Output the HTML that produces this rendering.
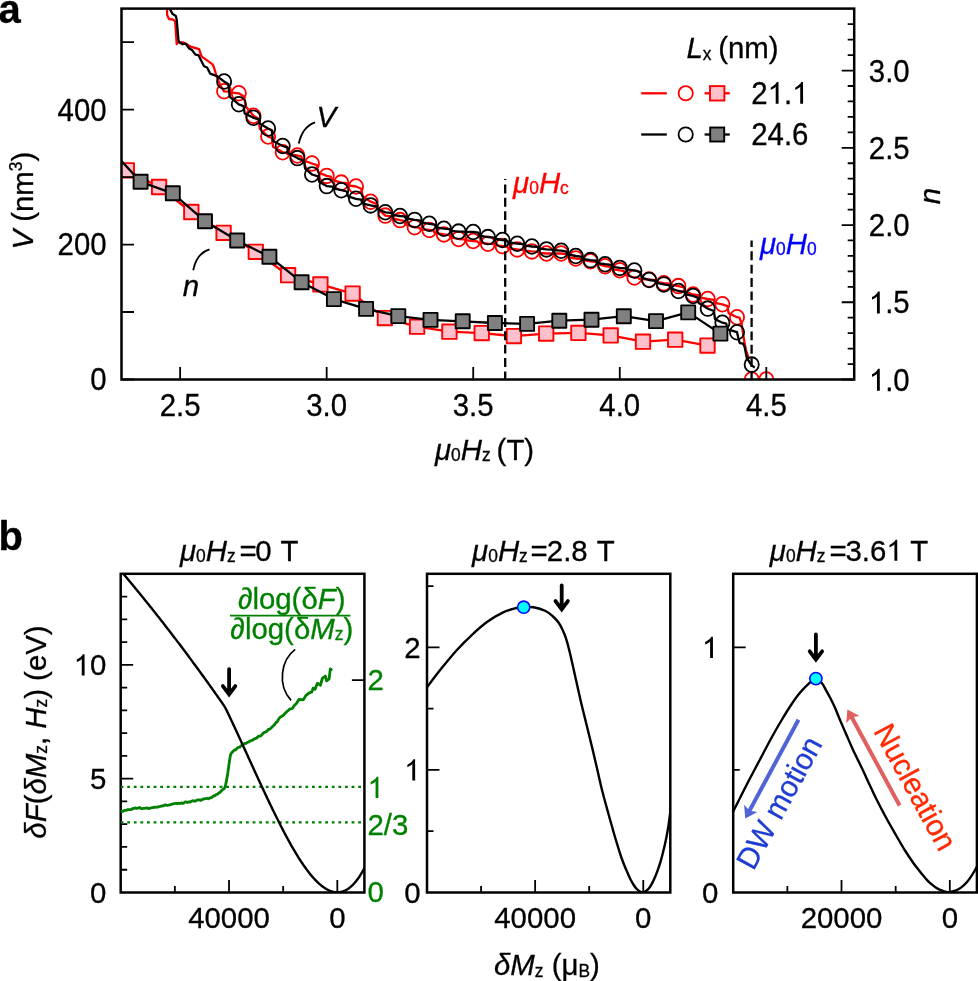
<!DOCTYPE html>
<html><head><meta charset="utf-8"><title>figure</title>
<style>html,body{margin:0;padding:0;background:#fff;}body{width:978px;height:981px;overflow:hidden;font-family:"Liberation Sans",sans-serif;}svg{display:block;will-change:transform;}</style>
</head><body>
<svg width="978" height="981" viewBox="0 0 978 981" font-family="Liberation Sans, sans-serif" stroke-width="0"><defs><clipPath id="ca"><rect x="121.5" y="8.6" width="732.7" height="370.9"/></clipPath><clipPath id="cb1"><rect x="120.7" y="573.8" width="243.7" height="318.7"/></clipPath><clipPath id="cb2"><rect x="427" y="573.8" width="243.3" height="318.7"/></clipPath><clipPath id="cb3"><rect x="733.2" y="573.8" width="243.7" height="318.7"/></clipPath></defs><g clip-path="url(#ca)" fill="none" stroke-linejoin="round"><polyline points="166.80,4.00 167.20,15.30 169.00,19.00 173.30,19.60 175.20,21.50 176.70,44.20 177.60,42.30 183.10,42.30 186.80,44.20 190.50,46.60 199.10,49.10 201.50,56.40 212.60,64.40 213.80,66.90 216.90,77.30 220.60,85.90 224.10,91.30 228.71,91.55 229.89,92.46 238.75,93.30 244.33,96.72 245.50,106.00 253.41,115.80 258.64,118.76 259.82,128.70 268.06,136.50 271.90,138.15 273.07,146.79 282.72,152.30 286.49,152.63 287.67,154.34 297.38,155.50 301.24,156.34 302.42,160.05 312.03,163.50 316.94,165.16 318.11,172.37 326.69,175.90 330.71,176.64 331.88,179.88 341.34,182.60 346.84,183.19 348.02,185.48 356.00,186.50 361.35,188.72 362.52,196.07 370.65,201.70 377.18,204.18 378.35,209.47 385.30,215.60 391.48,216.36 392.66,218.34 399.96,220.10 404.05,220.90 405.22,224.23 414.62,227.30 419.18,227.64 420.36,229.23 429.27,230.00 433.46,230.50 434.64,232.93 443.92,234.40 449.46,235.10 450.63,237.27 458.58,239.00 463.85,239.29 465.02,240.13 473.24,241.00 477.07,241.28 478.25,242.60 487.89,243.70 493.55,244.07 494.72,245.23 502.54,246.10 507.13,246.51 508.30,248.30 517.20,249.40 522.19,249.67 523.36,250.62 531.86,251.40 537.85,251.74 539.02,252.85 546.51,253.50 550.89,253.50 552.06,253.50 561.16,253.50 566.37,254.21 567.54,257.13 575.82,258.50 581.62,258.94 582.79,260.20 590.48,261.30 597.01,262.17 598.18,264.11 605.13,266.20 610.02,266.75 611.19,269.08 619.78,270.30 623.89,271.11 625.07,274.96 634.44,277.50 638.22,277.71 639.39,278.87 649.10,279.50 655.00,280.10 656.17,281.96 663.75,283.20 669.98,283.69 671.15,284.98 678.40,286.10 684.11,287.41 685.28,291.72 693.06,294.50 698.42,295.16 699.60,297.39 707.71,299.00 713.84,299.89 715.01,302.92 722.37,304.30 727.42,306.08 728.60,313.11 737.02,317.20 739.40,317.60 741.50,322.90 743.30,335.10 744.40,342.00 746.00,350.00 749.00,359.00" stroke="#ff0000" stroke-width="2.3"/><ellipse cx="224.1" cy="91.3" rx="7.10" ry="7.35" stroke="#ff0000" stroke-width="1.8"/><ellipse cx="238.8" cy="93.3" rx="7.10" ry="7.35" stroke="#ff0000" stroke-width="1.8"/><ellipse cx="253.4" cy="115.8" rx="7.10" ry="7.35" stroke="#ff0000" stroke-width="1.8"/><ellipse cx="268.1" cy="136.5" rx="7.10" ry="7.35" stroke="#ff0000" stroke-width="1.8"/><ellipse cx="282.7" cy="152.3" rx="7.10" ry="7.35" stroke="#ff0000" stroke-width="1.8"/><ellipse cx="297.4" cy="155.5" rx="7.10" ry="7.35" stroke="#ff0000" stroke-width="1.8"/><ellipse cx="312.0" cy="163.5" rx="7.10" ry="7.35" stroke="#ff0000" stroke-width="1.8"/><ellipse cx="326.7" cy="175.9" rx="7.10" ry="7.35" stroke="#ff0000" stroke-width="1.8"/><ellipse cx="341.3" cy="182.6" rx="7.10" ry="7.35" stroke="#ff0000" stroke-width="1.8"/><ellipse cx="356.0" cy="186.5" rx="7.10" ry="7.35" stroke="#ff0000" stroke-width="1.8"/><ellipse cx="370.6" cy="201.7" rx="7.10" ry="7.35" stroke="#ff0000" stroke-width="1.8"/><ellipse cx="385.3" cy="215.6" rx="7.10" ry="7.35" stroke="#ff0000" stroke-width="1.8"/><ellipse cx="400.0" cy="220.1" rx="7.10" ry="7.35" stroke="#ff0000" stroke-width="1.8"/><ellipse cx="414.6" cy="227.3" rx="7.10" ry="7.35" stroke="#ff0000" stroke-width="1.8"/><ellipse cx="429.3" cy="230.0" rx="7.10" ry="7.35" stroke="#ff0000" stroke-width="1.8"/><ellipse cx="443.9" cy="234.4" rx="7.10" ry="7.35" stroke="#ff0000" stroke-width="1.8"/><ellipse cx="458.6" cy="239.0" rx="7.10" ry="7.35" stroke="#ff0000" stroke-width="1.8"/><ellipse cx="473.2" cy="241.0" rx="7.10" ry="7.35" stroke="#ff0000" stroke-width="1.8"/><ellipse cx="487.9" cy="243.7" rx="7.10" ry="7.35" stroke="#ff0000" stroke-width="1.8"/><ellipse cx="502.5" cy="246.1" rx="7.10" ry="7.35" stroke="#ff0000" stroke-width="1.8"/><ellipse cx="517.2" cy="249.4" rx="7.10" ry="7.35" stroke="#ff0000" stroke-width="1.8"/><ellipse cx="531.9" cy="251.4" rx="7.10" ry="7.35" stroke="#ff0000" stroke-width="1.8"/><ellipse cx="546.5" cy="253.5" rx="7.10" ry="7.35" stroke="#ff0000" stroke-width="1.8"/><ellipse cx="561.2" cy="253.5" rx="7.10" ry="7.35" stroke="#ff0000" stroke-width="1.8"/><ellipse cx="575.8" cy="258.5" rx="7.10" ry="7.35" stroke="#ff0000" stroke-width="1.8"/><ellipse cx="590.5" cy="261.3" rx="7.10" ry="7.35" stroke="#ff0000" stroke-width="1.8"/><ellipse cx="605.1" cy="266.2" rx="7.10" ry="7.35" stroke="#ff0000" stroke-width="1.8"/><ellipse cx="619.8" cy="270.3" rx="7.10" ry="7.35" stroke="#ff0000" stroke-width="1.8"/><ellipse cx="634.4" cy="277.5" rx="7.10" ry="7.35" stroke="#ff0000" stroke-width="1.8"/><ellipse cx="649.1" cy="279.5" rx="7.10" ry="7.35" stroke="#ff0000" stroke-width="1.8"/><ellipse cx="663.8" cy="283.2" rx="7.10" ry="7.35" stroke="#ff0000" stroke-width="1.8"/><ellipse cx="678.4" cy="286.1" rx="7.10" ry="7.35" stroke="#ff0000" stroke-width="1.8"/><ellipse cx="693.1" cy="294.5" rx="7.10" ry="7.35" stroke="#ff0000" stroke-width="1.8"/><ellipse cx="707.7" cy="299.0" rx="7.10" ry="7.35" stroke="#ff0000" stroke-width="1.8"/><ellipse cx="722.4" cy="304.3" rx="7.10" ry="7.35" stroke="#ff0000" stroke-width="1.8"/><ellipse cx="737.0" cy="317.2" rx="7.10" ry="7.35" stroke="#ff0000" stroke-width="1.8"/><ellipse cx="751.7" cy="379.5" rx="7.10" ry="7.35" stroke="#ff0000" stroke-width="1.8"/><ellipse cx="766.3" cy="379.5" rx="7.10" ry="7.35" stroke="#ff0000" stroke-width="1.8"/><polyline points="100.00,150.00 126.80,170.30 159.06,187.00 191.32,212.00 223.58,232.80 255.84,251.80 288.10,275.20 320.36,284.40 352.62,293.60 384.88,318.10 417.14,326.70 449.40,331.70 481.66,333.10 513.92,336.10 546.18,333.60 578.44,332.90 610.70,335.40 642.96,341.70 675.22,339.70 707.48,345.60" stroke="#ff0000" stroke-width="2.3"/><rect x="119.6" y="163.1" width="14.4" height="14.4" fill="#ffc0cb" stroke="#ff0000" stroke-width="1.9"/><rect x="151.9" y="179.8" width="14.4" height="14.4" fill="#ffc0cb" stroke="#ff0000" stroke-width="1.9"/><rect x="184.1" y="204.8" width="14.4" height="14.4" fill="#ffc0cb" stroke="#ff0000" stroke-width="1.9"/><rect x="216.4" y="225.6" width="14.4" height="14.4" fill="#ffc0cb" stroke="#ff0000" stroke-width="1.9"/><rect x="248.6" y="244.6" width="14.4" height="14.4" fill="#ffc0cb" stroke="#ff0000" stroke-width="1.9"/><rect x="280.9" y="268.0" width="14.4" height="14.4" fill="#ffc0cb" stroke="#ff0000" stroke-width="1.9"/><rect x="313.2" y="277.2" width="14.4" height="14.4" fill="#ffc0cb" stroke="#ff0000" stroke-width="1.9"/><rect x="345.4" y="286.4" width="14.4" height="14.4" fill="#ffc0cb" stroke="#ff0000" stroke-width="1.9"/><rect x="377.7" y="310.9" width="14.4" height="14.4" fill="#ffc0cb" stroke="#ff0000" stroke-width="1.9"/><rect x="409.9" y="319.5" width="14.4" height="14.4" fill="#ffc0cb" stroke="#ff0000" stroke-width="1.9"/><rect x="442.2" y="324.5" width="14.4" height="14.4" fill="#ffc0cb" stroke="#ff0000" stroke-width="1.9"/><rect x="474.5" y="325.9" width="14.4" height="14.4" fill="#ffc0cb" stroke="#ff0000" stroke-width="1.9"/><rect x="506.7" y="328.9" width="14.4" height="14.4" fill="#ffc0cb" stroke="#ff0000" stroke-width="1.9"/><rect x="539.0" y="326.4" width="14.4" height="14.4" fill="#ffc0cb" stroke="#ff0000" stroke-width="1.9"/><rect x="571.2" y="325.7" width="14.4" height="14.4" fill="#ffc0cb" stroke="#ff0000" stroke-width="1.9"/><rect x="603.5" y="328.2" width="14.4" height="14.4" fill="#ffc0cb" stroke="#ff0000" stroke-width="1.9"/><rect x="635.8" y="334.5" width="14.4" height="14.4" fill="#ffc0cb" stroke="#ff0000" stroke-width="1.9"/><rect x="668.0" y="332.5" width="14.4" height="14.4" fill="#ffc0cb" stroke="#ff0000" stroke-width="1.9"/><rect x="700.3" y="338.4" width="14.4" height="14.4" fill="#ffc0cb" stroke="#ff0000" stroke-width="1.9"/><polyline points="168.30,4.00 169.60,8.60 172.70,14.10 175.80,16.00 176.70,19.60 178.50,40.50 179.40,42.30 182.50,44.20 185.60,43.60 189.30,48.50 192.30,50.30 195.40,54.60 198.50,55.20 204.00,66.30 207.10,67.50 210.10,73.60 216.90,76.10 224.10,81.50 228.46,84.21 229.63,96.52 238.75,104.30 243.50,106.05 244.68,113.36 253.41,117.80 258.91,119.41 260.08,123.83 268.06,128.50 271.77,130.27 272.94,141.06 282.72,146.00 287.14,147.46 288.32,153.22 297.38,158.10 303.96,161.05 305.13,168.66 312.03,174.50 318.15,176.44 319.32,181.99 326.69,186.10 332.22,186.72 333.39,188.48 341.34,190.20 346.86,191.50 348.04,196.42 356.00,198.80 361.19,199.74 362.36,203.41 370.65,205.40 376.28,206.46 377.45,209.28 385.30,212.30 391.19,212.89 392.36,214.77 399.96,216.00 404.51,216.48 405.68,218.17 414.62,219.90 420.82,220.56 421.99,222.41 429.27,223.80 435.04,224.57 436.21,227.36 443.92,228.70 449.68,229.16 450.85,230.83 458.58,231.60 463.40,231.65 464.57,231.88 473.24,232.00 478.20,232.69 479.37,235.76 487.89,237.10 494.13,237.59 495.30,238.75 502.54,240.00 506.61,240.41 507.78,242.20 517.20,243.70 523.69,244.20 524.87,245.48 531.86,246.50 537.36,246.94 538.53,248.27 546.51,249.40 551.66,249.58 552.83,250.22 561.16,250.70 565.86,251.38 567.03,254.24 575.82,256.00 581.20,256.60 582.37,259.00 590.48,260.10 596.14,260.73 597.31,263.12 605.13,264.20 611.30,264.82 612.48,266.97 619.78,267.90 625.42,268.30 626.59,269.41 634.44,270.50 640.63,272.10 641.80,277.56 649.10,280.00 655.41,280.76 656.58,282.92 663.75,284.40 669.51,285.44 670.68,288.31 678.40,291.00 684.51,291.83 685.68,294.32 693.06,296.00 697.56,297.55 698.73,303.09 707.71,308.60 713.88,310.97 715.05,319.15 722.37,322.70 726.29,323.72 727.47,329.45 737.02,332.20 739.00,340.70 739.80,343.20 742.90,343.50 744.60,346.80 746.80,358.00 751.30,364.80 754.70,367.60" stroke="#000" stroke-width="2.3"/><ellipse cx="224.1" cy="81.5" rx="7.10" ry="7.35" stroke="#000" stroke-width="1.8"/><ellipse cx="238.8" cy="104.3" rx="7.10" ry="7.35" stroke="#000" stroke-width="1.8"/><ellipse cx="253.4" cy="117.8" rx="7.10" ry="7.35" stroke="#000" stroke-width="1.8"/><ellipse cx="268.1" cy="128.5" rx="7.10" ry="7.35" stroke="#000" stroke-width="1.8"/><ellipse cx="282.7" cy="146.0" rx="7.10" ry="7.35" stroke="#000" stroke-width="1.8"/><ellipse cx="297.4" cy="158.1" rx="7.10" ry="7.35" stroke="#000" stroke-width="1.8"/><ellipse cx="312.0" cy="174.5" rx="7.10" ry="7.35" stroke="#000" stroke-width="1.8"/><ellipse cx="326.7" cy="186.1" rx="7.10" ry="7.35" stroke="#000" stroke-width="1.8"/><ellipse cx="341.3" cy="190.2" rx="7.10" ry="7.35" stroke="#000" stroke-width="1.8"/><ellipse cx="356.0" cy="198.8" rx="7.10" ry="7.35" stroke="#000" stroke-width="1.8"/><ellipse cx="370.6" cy="205.4" rx="7.10" ry="7.35" stroke="#000" stroke-width="1.8"/><ellipse cx="385.3" cy="212.3" rx="7.10" ry="7.35" stroke="#000" stroke-width="1.8"/><ellipse cx="400.0" cy="216.0" rx="7.10" ry="7.35" stroke="#000" stroke-width="1.8"/><ellipse cx="414.6" cy="219.9" rx="7.10" ry="7.35" stroke="#000" stroke-width="1.8"/><ellipse cx="429.3" cy="223.8" rx="7.10" ry="7.35" stroke="#000" stroke-width="1.8"/><ellipse cx="443.9" cy="228.7" rx="7.10" ry="7.35" stroke="#000" stroke-width="1.8"/><ellipse cx="458.6" cy="231.6" rx="7.10" ry="7.35" stroke="#000" stroke-width="1.8"/><ellipse cx="473.2" cy="232.0" rx="7.10" ry="7.35" stroke="#000" stroke-width="1.8"/><ellipse cx="487.9" cy="237.1" rx="7.10" ry="7.35" stroke="#000" stroke-width="1.8"/><ellipse cx="502.5" cy="240.0" rx="7.10" ry="7.35" stroke="#000" stroke-width="1.8"/><ellipse cx="517.2" cy="243.7" rx="7.10" ry="7.35" stroke="#000" stroke-width="1.8"/><ellipse cx="531.9" cy="246.5" rx="7.10" ry="7.35" stroke="#000" stroke-width="1.8"/><ellipse cx="546.5" cy="249.4" rx="7.10" ry="7.35" stroke="#000" stroke-width="1.8"/><ellipse cx="561.2" cy="250.7" rx="7.10" ry="7.35" stroke="#000" stroke-width="1.8"/><ellipse cx="575.8" cy="256.0" rx="7.10" ry="7.35" stroke="#000" stroke-width="1.8"/><ellipse cx="590.5" cy="260.1" rx="7.10" ry="7.35" stroke="#000" stroke-width="1.8"/><ellipse cx="605.1" cy="264.2" rx="7.10" ry="7.35" stroke="#000" stroke-width="1.8"/><ellipse cx="619.8" cy="267.9" rx="7.10" ry="7.35" stroke="#000" stroke-width="1.8"/><ellipse cx="634.4" cy="270.5" rx="7.10" ry="7.35" stroke="#000" stroke-width="1.8"/><ellipse cx="649.1" cy="280.0" rx="7.10" ry="7.35" stroke="#000" stroke-width="1.8"/><ellipse cx="663.8" cy="284.4" rx="7.10" ry="7.35" stroke="#000" stroke-width="1.8"/><ellipse cx="678.4" cy="291.0" rx="7.10" ry="7.35" stroke="#000" stroke-width="1.8"/><ellipse cx="693.1" cy="296.0" rx="7.10" ry="7.35" stroke="#000" stroke-width="1.8"/><ellipse cx="707.7" cy="308.6" rx="7.10" ry="7.35" stroke="#000" stroke-width="1.8"/><ellipse cx="722.4" cy="322.7" rx="7.10" ry="7.35" stroke="#000" stroke-width="1.8"/><ellipse cx="737.0" cy="332.2" rx="7.10" ry="7.35" stroke="#000" stroke-width="1.8"/><ellipse cx="751.7" cy="364.6" rx="7.10" ry="7.35" stroke="#000" stroke-width="1.8"/><polyline points="110.00,148.60 140.60,181.80 172.81,193.30 205.02,221.20 237.23,240.50 269.44,256.70 301.65,282.20 333.86,299.10 366.07,308.90 398.28,316.10 430.49,319.90 462.70,321.30 494.91,323.00 527.12,323.90 559.33,320.70 591.54,319.70 623.75,316.20 655.96,321.10 688.17,312.40 720.38,333.60" stroke="#000" stroke-width="2.3"/><rect x="133.6" y="174.8" width="14.0" height="14.0" fill="#808080" stroke="#000" stroke-width="1.9"/><rect x="165.8" y="186.3" width="14.0" height="14.0" fill="#808080" stroke="#000" stroke-width="1.9"/><rect x="198.0" y="214.2" width="14.0" height="14.0" fill="#808080" stroke="#000" stroke-width="1.9"/><rect x="230.2" y="233.5" width="14.0" height="14.0" fill="#808080" stroke="#000" stroke-width="1.9"/><rect x="262.4" y="249.7" width="14.0" height="14.0" fill="#808080" stroke="#000" stroke-width="1.9"/><rect x="294.6" y="275.2" width="14.0" height="14.0" fill="#808080" stroke="#000" stroke-width="1.9"/><rect x="326.9" y="292.1" width="14.0" height="14.0" fill="#808080" stroke="#000" stroke-width="1.9"/><rect x="359.1" y="301.9" width="14.0" height="14.0" fill="#808080" stroke="#000" stroke-width="1.9"/><rect x="391.3" y="309.1" width="14.0" height="14.0" fill="#808080" stroke="#000" stroke-width="1.9"/><rect x="423.5" y="312.9" width="14.0" height="14.0" fill="#808080" stroke="#000" stroke-width="1.9"/><rect x="455.7" y="314.3" width="14.0" height="14.0" fill="#808080" stroke="#000" stroke-width="1.9"/><rect x="487.9" y="316.0" width="14.0" height="14.0" fill="#808080" stroke="#000" stroke-width="1.9"/><rect x="520.1" y="316.9" width="14.0" height="14.0" fill="#808080" stroke="#000" stroke-width="1.9"/><rect x="552.3" y="313.7" width="14.0" height="14.0" fill="#808080" stroke="#000" stroke-width="1.9"/><rect x="584.5" y="312.7" width="14.0" height="14.0" fill="#808080" stroke="#000" stroke-width="1.9"/><rect x="616.8" y="309.2" width="14.0" height="14.0" fill="#808080" stroke="#000" stroke-width="1.9"/><rect x="649.0" y="314.1" width="14.0" height="14.0" fill="#808080" stroke="#000" stroke-width="1.9"/><rect x="681.2" y="305.4" width="14.0" height="14.0" fill="#808080" stroke="#000" stroke-width="1.9"/><rect x="713.4" y="326.6" width="14.0" height="14.0" fill="#808080" stroke="#000" stroke-width="1.9"/></g><line x1="505.2" y1="178.9" x2="505.2" y2="379.5" stroke="#000" stroke-width="2.3" stroke-dasharray="8.9 4.45" stroke-dashoffset="7.75"/><line x1="751.6" y1="240.4" x2="751.6" y2="379.5" stroke="#000" stroke-width="2.3" stroke-dasharray="8.9 4.45" stroke-dashoffset="2.4"/><rect x="121.5" y="8.6" width="732.7" height="370.9" fill="none" stroke="#000" stroke-width="2.5"/><path d="M121.5,379.50H134.0M121.5,312.02H134.0M121.5,244.55H134.0M121.5,177.08H134.0M121.5,109.60H134.0M121.5,42.12H134.0M854.2,379.50H841.7M854.2,364.05H847.7M854.2,348.61H847.7M854.2,333.16H847.7M854.2,317.71H847.7M854.2,302.26H841.7M854.2,286.81H847.7M854.2,271.37H847.7M854.2,255.92H847.7M854.2,240.47H847.7M854.2,225.03H841.7M854.2,209.58H847.7M854.2,194.13H847.7M854.2,178.68H847.7M854.2,163.23H847.7M854.2,147.79H841.7M854.2,132.34H847.7M854.2,116.89H847.7M854.2,101.45H847.7M854.2,86.00H847.7M854.2,70.55H841.7M854.2,55.10H847.7M854.2,39.65H847.7M854.2,24.21H847.7M180.12,379.5V367.0M326.67,379.5V367.0M473.22,379.5V367.0M619.77,379.5V367.0M766.32,379.5V367.0" stroke="#000" stroke-width="1.8" fill="none"/><rect x="120.7" y="573.8" width="243.7" height="318.7" fill="none" stroke="#000" stroke-width="2.5"/><rect x="427.0" y="573.8" width="243.3" height="318.7" fill="none" stroke="#000" stroke-width="2.5"/><rect x="733.2" y="573.8" width="243.7" height="318.7" fill="none" stroke="#000" stroke-width="2.5"/><path d="M120.7,869.74H127.2M120.7,846.97H127.2M120.7,824.21H127.2M120.7,801.44H127.2M120.7,778.68H133.2M120.7,755.91H127.2M120.7,733.15H127.2M120.7,710.39H127.2M120.7,687.62H127.2M120.7,664.86H133.2M120.7,642.09H127.2M120.7,619.33H127.2M120.7,596.56H127.2M174.86,892.5V886.0M229.01,892.5V880.0M283.17,892.5V886.0M337.32,892.5V880.0M364.4,680.10H351.9M427.0,831.21H433.5M427.0,769.92H439.5M427.0,708.63H433.5M427.0,647.35H439.5M427.0,586.06H433.5M481.07,892.5V886.0M535.13,892.5V880.0M589.20,892.5V886.0M643.27,892.5V880.0M733.2,769.92H739.7M733.2,647.35H745.7M787.36,892.5V886.0M841.51,892.5V880.0M895.67,892.5V886.0M949.82,892.5V880.0" stroke="#000" stroke-width="1.8" fill="none"/><g clip-path="url(#cb1)" fill="none"><path d="M120.6,786.9H364M120.6,822.3H364" stroke="#008000" stroke-width="2.2" stroke-dasharray="2.8 3.8"/><polyline points="120.00,811.45 121.30,811.30 122.60,811.44 123.90,810.68 125.20,810.46 126.50,810.29 127.80,809.58 129.10,809.68 130.40,809.55 131.70,809.47 133.00,808.44 134.30,808.41 135.60,807.91 136.90,808.44 138.20,808.05 139.50,807.39 140.80,808.53 142.10,808.61 143.40,808.38 144.70,808.44 146.00,808.05 147.30,807.99 148.60,808.67 149.90,808.10 151.20,807.96 152.50,807.73 153.80,807.20 155.10,807.39 156.40,807.07 157.70,807.23 159.00,806.58 160.30,806.42 161.60,805.98 162.90,805.87 164.20,805.35 165.50,804.87 166.80,805.44 168.10,805.27 169.40,804.93 170.70,804.62 172.00,804.01 173.30,803.75 174.60,803.65 175.90,803.24 177.20,803.83 178.50,803.26 179.80,803.58 181.10,802.91 182.40,803.36 183.70,803.07 185.00,801.95 186.30,801.96 187.60,802.51 188.90,801.80 190.20,802.14 191.50,801.28 192.80,800.70 194.10,801.09 195.40,801.04 196.70,800.25 198.00,799.83 199.30,799.88 200.60,800.35 201.90,799.90 203.20,798.98 204.50,798.90 205.80,798.51 207.10,798.25 208.40,798.83 209.70,797.93 211.00,797.82 212.30,796.98 213.60,795.97 214.90,795.85 216.20,794.47 217.50,794.31 218.80,793.01 220.10,792.31 221.40,790.78 222.70,789.55 224.00,789.02 225.30,786.28 226.60,780.13 227.90,772.29 229.20,762.88 230.50,754.68 231.80,752.59 233.10,751.38 234.40,749.81 235.70,749.90 237.00,748.24 238.30,747.48 239.60,747.24 240.90,745.94 242.20,745.10 243.50,744.15 244.80,743.49 246.10,743.35 247.40,742.29 248.70,742.00 250.00,741.06 251.30,740.47 252.60,740.34 253.90,739.14 255.20,738.55 256.50,738.19 257.80,736.76 259.10,736.04 260.40,736.08 261.70,735.00 263.00,733.40 264.30,732.37 265.60,732.00 266.90,731.25 268.20,729.46 269.50,729.31 270.80,728.26 272.10,726.98 273.40,725.81 274.70,724.42 276.00,722.52 277.30,721.71 278.60,719.08 280.00,717.40 283.10,715.50 286.70,711.80 289.80,709.10 292.30,708.50 294.10,705.70 296.60,703.30 299.00,699.30 303.30,699.90 305.80,695.60 308.80,693.10 311.90,691.90 313.10,688.20 315.00,689.40 317.40,683.30 320.50,685.20 322.30,678.40 325.40,676.00 326.60,680.90 329.10,679.00 330.30,668.90 332.10,670.40" stroke="#008000" stroke-width="2.8" stroke-linejoin="round"/><polyline points="119.00,568.71 119.75,569.60 120.50,570.48 121.25,571.36 122.00,572.25 122.75,573.13 123.50,574.02 124.25,574.91 125.00,575.80 125.75,576.69 126.50,577.59 127.25,578.48 128.00,579.38 128.75,580.28 129.50,581.18 130.25,582.08 131.00,582.98 131.75,583.88 132.50,584.79 133.25,585.69 134.00,586.60 134.75,587.51 135.50,588.42 136.25,589.33 137.00,590.24 137.75,591.16 138.50,592.07 139.25,592.99 140.00,593.91 140.75,594.83 141.50,595.75 142.25,596.67 143.00,597.60 143.75,598.52 144.50,599.45 145.25,600.38 146.00,601.31 146.75,602.24 147.50,603.17 148.25,604.11 149.00,605.04 149.75,605.98 150.50,606.92 151.25,607.86 152.00,608.80 152.75,609.74 153.50,610.68 154.25,611.63 155.00,612.57 155.75,613.52 156.50,614.47 157.25,615.42 158.00,616.37 158.75,617.33 159.50,618.28 160.25,619.24 161.00,620.19 161.75,621.15 162.50,622.11 163.25,623.07 164.00,624.04 164.75,625.00 165.50,625.97 166.25,626.93 167.00,627.90 167.75,628.87 168.50,629.84 169.25,630.82 170.00,631.79 170.75,632.77 171.50,633.74 172.25,634.72 173.00,635.70 173.75,636.68 174.50,637.66 175.25,638.65 176.00,639.63 176.75,640.62 177.50,641.61 178.25,642.60 179.00,643.59 179.75,644.58 180.50,645.57 181.25,646.57 182.00,647.57 182.75,648.56 183.50,649.56 184.25,650.56 185.00,651.56 185.75,652.57 186.50,653.57 187.25,654.58 188.00,655.59 188.75,656.59 189.50,657.60 190.25,658.62 191.00,659.63 191.75,660.64 192.50,661.66 193.25,662.68 194.00,663.69 194.75,664.71 195.50,665.74 196.25,666.76 197.00,667.78 197.75,668.81 198.50,669.83 199.25,670.86 200.00,671.89 200.75,672.92 201.50,673.96 202.25,674.99 203.00,676.02 203.75,677.06 204.50,678.10 205.25,679.14 206.00,680.18 206.75,681.22 207.50,682.26 208.25,683.31 209.00,684.36 209.75,685.40 210.50,686.45 211.25,687.50 212.00,688.55 212.75,689.61 213.50,690.66 214.25,691.72 215.00,692.78 215.75,693.83 216.50,694.89 217.25,695.96 218.00,697.02 218.75,698.08 219.50,699.15 220.25,700.22 221.00,701.29 221.75,702.37 222.50,703.46 223.25,704.56 224.00,705.71 224.75,706.93 225.50,708.25 226.25,709.67 227.00,711.16 227.75,712.71 228.50,714.28 229.25,715.87 230.00,717.46 230.75,719.06 231.50,720.66 232.25,722.27 233.00,723.88 233.75,725.50 234.50,727.11 235.25,728.73 236.00,730.35 236.75,731.97 237.50,733.60 238.25,735.23 239.00,736.86 239.75,738.49 240.50,740.12 241.25,741.75 242.00,743.39 242.75,745.03 243.50,746.66 244.25,748.30 245.00,749.94 245.75,751.58 246.50,753.22 247.25,754.87 248.00,756.51 248.75,758.15 249.50,759.79 250.25,761.43 251.00,763.07 251.75,764.71 252.50,766.35 253.25,767.99 254.00,769.63 254.75,771.26 255.50,772.90 256.25,774.53 257.00,776.16 257.75,777.79 258.50,779.42 259.25,781.04 260.00,782.66 260.75,784.28 261.50,785.90 262.25,787.51 263.00,789.12 263.75,790.73 264.50,792.33 265.25,793.93 266.00,795.53 266.75,797.12 267.50,798.70 268.25,800.29 269.00,801.86 269.75,803.43 270.50,805.00 271.25,806.56 272.00,808.12 272.75,809.67 273.50,811.21 274.25,812.75 275.00,814.28 275.75,815.80 276.50,817.31 277.25,818.82 278.00,820.33 278.75,821.82 279.50,823.30 280.25,824.78 281.00,826.25 281.75,827.71 282.50,829.16 283.25,830.60 284.00,832.04 284.75,833.46 285.50,834.87 286.25,836.28 287.00,837.67 287.75,839.05 288.50,840.42 289.25,841.78 290.00,843.13 290.75,844.47 291.50,845.79 292.25,847.10 293.00,848.40 293.75,849.69 294.50,850.96 295.25,852.23 296.00,853.47 296.75,854.71 297.50,855.93 298.25,857.13 299.00,858.32 299.75,859.49 300.50,860.65 301.25,861.80 302.00,862.93 302.75,864.04 303.50,865.13 304.25,866.21 305.00,867.27 305.75,868.32 306.50,869.34 307.25,870.35 308.00,871.34 308.75,872.32 309.50,873.27 310.25,874.20 311.00,875.12 311.75,876.01 312.50,876.89 313.25,877.74 314.00,878.57 314.75,879.38 315.50,880.17 316.25,880.94 317.00,881.69 317.75,882.41 318.50,883.11 319.25,883.79 320.00,884.45 320.75,885.08 321.50,885.69 322.25,886.27 323.00,886.83 323.75,887.36 324.50,887.87 325.25,888.35 326.00,888.80 326.75,889.23 327.50,889.63 328.25,890.01 329.00,890.35 329.75,890.67 330.50,890.96 331.25,891.22 332.00,891.46 332.75,891.66 333.50,891.83 334.25,891.98 335.00,892.09 335.75,892.17 336.50,892.22 337.25,892.24 338.00,892.23 338.75,892.18 339.50,892.10 340.25,891.99 341.00,891.84 341.75,891.67 342.50,891.45 343.25,891.20 344.00,890.92 344.75,890.60 345.50,890.24 346.25,889.85 347.00,889.42 347.75,888.96 348.50,888.45 349.25,887.91 350.00,887.33 350.75,886.71 351.50,886.05 352.25,885.36 353.00,884.62 353.75,883.84 354.50,883.02 355.25,882.16 356.00,881.26 356.75,880.31 357.50,879.32 358.25,878.29 359.00,877.22 359.75,876.10 360.50,874.94 361.25,873.73 362.00,872.47 362.75,871.18 363.50,869.83 364.25,868.44 365.00,867.00 365.75,865.51 366.50,863.98 367.25,862.40" stroke="#000" stroke-width="2.4" stroke-linejoin="round"/></g><g clip-path="url(#cb2)" fill="none"><path d="M424.00,691.00C424.33,690.58 423.12,692.23 426.00,688.50C428.88,684.77 436.18,674.98 441.30,668.60C446.42,662.22 451.58,655.83 456.70,650.20C461.82,644.57 466.90,639.53 472.00,634.80C477.10,630.07 482.18,625.50 487.30,621.80C492.42,618.10 497.83,614.90 502.70,612.60C507.57,610.30 513.00,608.93 516.50,608.00C520.00,607.07 520.88,607.13 523.70,607.00C526.52,606.87 529.75,606.53 533.40,607.20C537.05,607.87 542.33,609.45 545.60,611.00C548.87,612.55 550.85,614.58 553.00,616.50C555.15,618.42 556.95,620.38 558.50,622.50C560.05,624.62 561.05,626.57 562.30,629.20C563.55,631.83 564.77,634.50 566.00,638.30C567.23,642.10 568.20,645.80 569.70,652.00C571.20,658.20 573.20,667.50 575.00,675.50C576.80,683.50 578.57,691.75 580.50,700.00C582.43,708.25 584.57,716.68 586.60,725.00C588.63,733.32 590.90,742.40 592.70,749.90C594.50,757.40 595.85,763.32 597.40,770.00C598.95,776.68 600.15,782.67 602.00,790.00C603.85,797.33 606.43,806.50 608.50,814.00C610.57,821.50 612.80,829.47 614.40,835.00C616.00,840.53 616.97,843.53 618.10,847.20C619.23,850.87 620.18,854.03 621.20,857.00C622.22,859.97 623.18,862.45 624.20,865.00C625.22,867.55 626.28,869.97 627.30,872.30C628.32,874.63 629.28,876.97 630.30,879.00C631.32,881.03 632.37,882.87 633.40,884.50C634.43,886.13 635.48,887.67 636.50,888.80C637.52,889.93 638.45,890.72 639.50,891.30C640.55,891.88 641.70,892.37 642.80,892.30C643.90,892.23 644.87,891.85 646.10,890.90C647.33,889.95 648.67,889.00 650.20,886.60C651.73,884.20 653.60,880.57 655.30,876.50C657.00,872.43 658.70,867.98 660.40,862.20C662.10,856.42 664.15,847.92 665.50,841.80C666.85,835.68 667.67,830.80 668.50,825.50C669.33,820.20 669.75,815.92 670.50,810.00C671.25,804.08 672.58,793.33 673.00,790.00" stroke="#000" stroke-width="2.4"/></g><g clip-path="url(#cb3)" fill="none"><path d="M730.00,817.00C730.43,816.25 731.15,815.25 732.60,812.50C734.05,809.75 736.25,805.33 738.70,800.50C741.15,795.67 744.42,789.08 747.30,783.50C750.18,777.92 753.10,772.50 756.00,767.00C758.90,761.50 761.82,755.92 764.70,750.50C767.58,745.08 770.42,739.67 773.30,734.50C776.18,729.33 779.10,724.33 782.00,719.50C784.90,714.67 787.82,709.83 790.70,705.50C793.58,701.17 796.42,697.03 799.30,693.50C802.18,689.97 805.22,686.75 808.00,684.30C810.78,681.85 813.68,678.97 816.00,678.80C818.32,678.63 820.27,681.47 821.90,683.30C823.53,685.13 824.40,687.35 825.80,689.80C827.20,692.25 828.78,695.03 830.30,698.00C831.82,700.97 833.32,704.02 834.90,707.60C836.48,711.18 837.87,714.93 839.80,719.50C841.73,724.07 844.28,729.92 846.50,735.00C848.72,740.08 850.38,744.17 853.10,750.00C855.82,755.83 860.03,764.17 862.80,770.00C865.57,775.83 867.40,780.08 869.70,785.00C872.00,789.92 873.88,794.08 876.60,799.50C879.32,804.92 882.78,811.58 886.00,817.50C889.22,823.42 892.73,829.50 895.90,835.00C899.07,840.50 902.03,845.75 905.00,850.50C907.97,855.25 911.35,860.17 913.70,863.50C916.05,866.83 917.52,868.48 919.10,870.50C920.68,872.52 921.83,873.97 923.20,875.60C924.57,877.23 925.93,878.87 927.30,880.30C928.67,881.73 930.05,883.05 931.40,884.20C932.75,885.35 934.05,886.30 935.40,887.20C936.75,888.10 938.13,888.95 939.50,889.60C940.87,890.25 941.92,890.67 943.60,891.10C945.28,891.53 947.67,892.28 949.60,892.20C951.53,892.12 953.58,891.18 955.20,890.60C956.82,890.02 957.93,889.53 959.30,888.70C960.67,887.87 962.05,886.80 963.40,885.60C964.75,884.40 966.05,883.13 967.40,881.50C968.75,879.87 970.27,877.63 971.50,875.80C972.73,873.97 973.38,872.97 974.80,870.50C976.22,868.03 979.13,862.58 980.00,861.00" stroke="#000" stroke-width="2.4"/></g><circle cx="523.7" cy="607.2" r="6.1" fill="#00ffff" stroke="#0000ff" stroke-width="1.6"/><circle cx="815.9" cy="678.6" r="6.1" fill="#00ffff" stroke="#0000ff" stroke-width="1.6"/><path d="M229.1,669.2V693.4M222.9,686.1L229.1,694.4L235.3,686.1" stroke="#000" stroke-width="3.8" fill="none" stroke-linecap="round" stroke-linejoin="miter" stroke-miterlimit="10"/><path d="M561.7,585.3V608.4M555.5,601.1L561.7,609.4L567.9,601.1" stroke="#000" stroke-width="3.8" fill="none" stroke-linecap="round" stroke-linejoin="miter" stroke-miterlimit="10"/><path d="M815.9,634.5V658.6M809.7,651.3L815.9,659.6L822.1,651.3" stroke="#000" stroke-width="3.8" fill="none" stroke-linecap="round" stroke-linejoin="miter" stroke-miterlimit="10"/><line x1="798.5" y1="719.8" x2="749.0" y2="811.6" stroke="#5064d7" stroke-width="4.0"/><polygon points="745.30,818.60 744.06,804.87 749.52,810.76 757.44,812.08" fill="#5064d7"/><line x1="899.6" y1="805.5" x2="851.2" y2="716.3" stroke="#e05f5f" stroke-width="4.0"/><polygon points="847.40,709.40 859.57,715.88 851.65,717.22 846.21,723.13" fill="#e05f5f"/><path d="M298.8,143.5C301,133 306,125.5 315.1,122.3" stroke="#000" stroke-width="1.8" fill="none"/><path d="M193.2,270.3C195.5,259 200,252 209.6,249.3" stroke="#000" stroke-width="1.8" fill="none"/><path d="M295.2,649.4C281,660 277,685 291.1,700.3" stroke="#000" stroke-width="1.7" fill="none"/><line x1="230" y1="615.6" x2="350.4" y2="615.6" stroke="#008000" stroke-width="1.6"/><line x1="641.2" y1="93.3" x2="666.8" y2="93.3" stroke="#ff0000" stroke-width="2.3"/><circle cx="685.7" cy="93.3" r="7.15" fill="none" stroke="#ff0000" stroke-width="1.8"/><line x1="704.6" y1="93.3" x2="729.8" y2="93.3" stroke="#ff0000" stroke-width="2.3"/><rect x="710.0" y="86.1" width="14.4" height="14.4" fill="#ffc0cb" stroke="#ff0000" stroke-width="1.9"/><line x1="641.2" y1="134.5" x2="666.8" y2="134.5" stroke="#000" stroke-width="2.3"/><circle cx="685.7" cy="134.5" r="7.15" fill="none" stroke="#000" stroke-width="1.8"/><line x1="704.6" y1="134.5" x2="729.8" y2="134.5" stroke="#000" stroke-width="2.3"/><rect x="710.2" y="127.5" width="14.0" height="14.0" fill="#808080" stroke="#000" stroke-width="1.9"/><text transform="translate(-1.50,22.60)" font-size="40.0" stroke-width="0.30" stroke="#000" font-weight="bold">a</text><text transform="translate(-1.50,549.50)" font-size="40.0" stroke-width="0.30" stroke="#000" font-weight="bold">b</text><text transform="translate(90.25,390.40) scale(1,1.065)" font-size="29.4" stroke-width="0.30" stroke="#000" >0</text><text transform="translate(57.55,255.45) scale(1,1.065)" font-size="29.4" stroke-width="0.30" stroke="#000" >200</text><text transform="translate(57.55,120.50) scale(1,1.065)" font-size="29.4" stroke-width="0.30" stroke="#000" >400</text><text transform="translate(868.80,390.70) scale(1,1.065)" font-size="29.4" stroke-width="0.30" stroke="#000" > .0</text><path transform="translate(868.80,390.70) scale(0.01436,-0.01486)" d="M768,0H568V1147Q518,1085 412.5,1023Q307,961 223,930V1104Q374,1175 487,1276Q600,1377 647,1472H763Z"/><text transform="translate(868.80,313.46) scale(1,1.065)" font-size="29.4" stroke-width="0.30" stroke="#000" > .5</text><path transform="translate(868.80,313.46) scale(0.01436,-0.01486)" d="M768,0H568V1147Q518,1085 412.5,1023Q307,961 223,930V1104Q374,1175 487,1276Q600,1377 647,1472H763Z"/><text transform="translate(868.80,236.22) scale(1,1.065)" font-size="29.4" stroke-width="0.30" stroke="#000" >2.0</text><text transform="translate(868.80,158.99) scale(1,1.065)" font-size="29.4" stroke-width="0.30" stroke="#000" >2.5</text><text transform="translate(868.80,81.75) scale(1,1.065)" font-size="29.4" stroke-width="0.30" stroke="#000" >3.0</text><text transform="translate(159.68,415.60) scale(1,1.065)" font-size="29.4" stroke-width="0.30" stroke="#000" >2.5</text><text transform="translate(306.23,415.60) scale(1,1.065)" font-size="29.4" stroke-width="0.30" stroke="#000" >3.0</text><text transform="translate(452.78,415.60) scale(1,1.065)" font-size="29.4" stroke-width="0.30" stroke="#000" >3.5</text><text transform="translate(599.33,415.60) scale(1,1.065)" font-size="29.4" stroke-width="0.30" stroke="#000" >4.0</text><text transform="translate(745.88,415.60) scale(1,1.065)" font-size="29.4" stroke-width="0.30" stroke="#000" >4.5</text><text transform="translate(434.90,459.80) scale(1,1.030)" font-size="29.4" stroke-width="0.30" stroke="#000" ><tspan font-style="italic">μ</tspan><tspan font-size="17.4" dy="1.4">0</tspan><tspan font-style="italic" dy="-1.4">H</tspan><tspan font-size="17.4" dy="1.4">z</tspan><tspan dy="-1.4" x="61.70">(T)</tspan></text><text transform="translate(33.20,200.60) rotate(-90.00) scale(1,1.030)" font-size="29.4" stroke-width="0.30" text-anchor="middle" stroke="#000" ><tspan font-style="italic">V</tspan> (nm<tspan font-size="17.4" dy="-11">3</tspan><tspan dy="11">)</tspan></text><text transform="translate(940.00,196.00) rotate(-90.00) scale(1,1.030)" font-size="29.4" stroke-width="0.30" text-anchor="middle" stroke="#000" ><tspan font-style="italic">n</tspan></text><text transform="translate(686.40,58.40) scale(1,1.030)" font-size="29.4" stroke-width="0.30" stroke="#000" ><tspan font-style="italic">L</tspan><tspan font-size="17.4" dy="1.4">x</tspan><tspan dy="-1.4" x="31.80">(nm)</tspan></text><text transform="translate(751.20,103.80) scale(1,1.065)" font-size="29.4" stroke-width="0.30" stroke="#000" >2 . </text><path transform="translate(767.55,103.80) scale(0.01436,-0.01486)" d="M768,0H568V1147Q518,1085 412.5,1023Q307,961 223,930V1104Q374,1175 487,1276Q600,1377 647,1472H763Z"/><path transform="translate(792.07,103.80) scale(0.01436,-0.01486)" d="M768,0H568V1147Q518,1085 412.5,1023Q307,961 223,930V1104Q374,1175 487,1276Q600,1377 647,1472H763Z"/><text transform="translate(751.20,144.70) scale(1,1.065)" font-size="29.4" stroke-width="0.30" stroke="#000" >24.6</text><text transform="translate(513.10,192.70) scale(1,1.030)" font-size="29.4" stroke-width="0.30" fill="#ff0000" stroke="#ff0000" ><tspan font-style="italic">μ</tspan><tspan font-size="17.4" dy="1.4">0</tspan><tspan font-style="italic" dy="-1.4">H</tspan><tspan font-size="17.4" dy="1.4">c</tspan></text><text transform="translate(760.00,253.50) scale(1,1.030)" font-size="29.4" stroke-width="0.30" fill="#0000ff" stroke="#0000ff" ><tspan font-style="italic">μ</tspan><tspan font-size="17.4" dy="1.4">0</tspan><tspan font-style="italic" dy="-1.4">H</tspan><tspan font-size="17.4" dy="1.4">0</tspan></text><text transform="translate(316.40,127.00) scale(1,1.030)" font-size="29.4" stroke-width="0.30" stroke="#000" ><tspan font-style="italic">V</tspan></text><text transform="translate(182.70,295.70) scale(1,1.030)" font-size="29.4" stroke-width="0.30" stroke="#000" ><tspan font-style="italic">n</tspan></text><text transform="translate(179.90,560.80) scale(1,1.030)" font-size="29.4" stroke-width="0.30" stroke="#000" ><tspan font-style="italic">μ</tspan><tspan font-size="17.4" dy="1.4">0</tspan><tspan font-style="italic" dy="-1.4">H</tspan><tspan font-size="17.4" dy="1.4">z</tspan><tspan x="59.70" dy="-1.4" >=</tspan><tspan x="75.40" >0</tspan><tspan x="100.50" >T</tspan></text><text transform="translate(472.10,560.80) scale(1,1.030)" font-size="29.4" stroke-width="0.30" stroke="#000" ><tspan font-style="italic">μ</tspan><tspan font-size="17.4" dy="1.4">0</tspan><tspan font-style="italic" dy="-1.4">H</tspan><tspan font-size="17.4" dy="1.4">z</tspan><tspan x="58.50" dy="-1.4" >=</tspan><tspan x="74.70" >2.8</tspan><tspan x="124.60" >T</tspan></text><text transform="translate(769.80,560.80) scale(1,1.030)" font-size="29.4" stroke-width="0.30" stroke="#000" ><tspan font-style="italic">μ</tspan><tspan font-size="17.4" dy="1.4">0</tspan><tspan font-style="italic" dy="-1.4">H</tspan><tspan font-size="17.4" dy="1.4">z</tspan><tspan x="59.70" dy="-1.4" >=</tspan><tspan x="75.60" >3.6 </tspan><tspan x="140.40" >T</tspan></text><path transform="translate(886.27,560.80) scale(0.01436,-0.01437)" d="M768,0H568V1147Q518,1085 412.5,1023Q307,961 223,930V1104Q374,1175 487,1276Q600,1377 647,1472H763Z"/><text transform="translate(89.95,903.10) scale(1,1.030)" font-size="29.4" stroke-width="0.30" stroke="#000" >0</text><text transform="translate(89.95,789.28) scale(1,1.030)" font-size="29.4" stroke-width="0.30" stroke="#000" >5</text><text transform="translate(73.60,675.46) scale(1,1.030)" font-size="29.4" stroke-width="0.30" stroke="#000" > 0</text><path transform="translate(73.60,675.46) scale(0.01436,-0.01437)" d="M768,0H568V1147Q518,1085 412.5,1023Q307,961 223,930V1104Q374,1175 487,1276Q600,1377 647,1472H763Z"/><text transform="translate(404.15,903.10) scale(1,1.030)" font-size="29.4" stroke-width="0.30" stroke="#000" >0</text><text transform="translate(404.15,780.52) scale(1,1.030)" font-size="29.4" stroke-width="0.30" stroke="#000" > </text><path transform="translate(404.15,780.52) scale(0.01436,-0.01437)" d="M768,0H568V1147Q518,1085 412.5,1023Q307,961 223,930V1104Q374,1175 487,1276Q600,1377 647,1472H763Z"/><text transform="translate(404.15,657.95) scale(1,1.030)" font-size="29.4" stroke-width="0.30" stroke="#000" >2</text><text transform="translate(701.95,903.10) scale(1,1.030)" font-size="29.4" stroke-width="0.30" stroke="#000" >0</text><text transform="translate(701.95,657.95) scale(1,1.030)" font-size="29.4" stroke-width="0.30" stroke="#000" > </text><path transform="translate(701.95,657.95) scale(0.01436,-0.01437)" d="M768,0H568V1147Q518,1085 412.5,1023Q307,961 223,930V1104Q374,1175 487,1276Q600,1377 647,1472H763Z"/><text transform="translate(367.40,901.90) scale(1,1.030)" font-size="29.4" stroke-width="0.30" fill="#008000" stroke="#008000" >0</text><text transform="translate(367.40,835.00) scale(1,1.030)" font-size="29.4" stroke-width="0.30" fill="#008000" stroke="#008000" >2/3</text><text transform="translate(367.40,797.90) scale(1,1.030)" font-size="29.4" stroke-width="0.30" fill="#008000" stroke="#008000" > </text><path transform="translate(367.40,797.90) scale(0.01436,-0.01437)" d="M768,0H568V1147Q518,1085 412.5,1023Q307,961 223,930V1104Q374,1175 487,1276Q600,1377 647,1472H763Z" fill="#008000"/><text transform="translate(367.40,689.50) scale(1,1.030)" font-size="29.4" stroke-width="0.30" fill="#008000" stroke="#008000" >2</text><text transform="translate(188.13,928.00) scale(1,1.030)" font-size="29.4" stroke-width="0.30" stroke="#000" >40000</text><text transform="translate(329.15,928.00) scale(1,1.030)" font-size="29.4" stroke-width="0.30" stroke="#000" >0</text><text transform="translate(494.26,928.00) scale(1,1.030)" font-size="29.4" stroke-width="0.30" stroke="#000" >40000</text><text transform="translate(635.09,928.00) scale(1,1.030)" font-size="29.4" stroke-width="0.30" stroke="#000" >0</text><text transform="translate(800.63,928.00) scale(1,1.030)" font-size="29.4" stroke-width="0.30" stroke="#000" >20000</text><text transform="translate(941.65,928.00) scale(1,1.030)" font-size="29.4" stroke-width="0.30" stroke="#000" >0</text><text transform="translate(494.00,975.40) scale(1,1.030)" font-size="29.4" stroke-width="0.30" stroke="#000" ><tspan font-style="italic">δM</tspan><tspan font-size="17.4" dy="1.4">z</tspan><tspan dy="-1.4"> (μ</tspan><tspan font-size="17.4" dy="1.4">B</tspan><tspan dy="-1.4">)</tspan></text><text transform="translate(45.90,732.00) rotate(-90.00) scale(1,1.030)" font-size="29.4" stroke-width="0.30" text-anchor="middle" stroke="#000" ><tspan font-style="italic">δF</tspan>(<tspan font-style="italic">δM</tspan><tspan font-size="17.4" dy="1.4">z</tspan><tspan dy="-1.4">, </tspan><tspan font-style="italic">H</tspan><tspan font-size="17.4" dy="1.4">z</tspan><tspan dy="-1.4">) (eV)</tspan></text><text transform="translate(291.70,609.00) scale(1,1.030)" font-size="29.4" stroke-width="0.30" text-anchor="middle" fill="#008000" stroke="#008000" >∂log(δ<tspan font-style="italic">F</tspan>)</text><text transform="translate(291.80,638.90) scale(1,1.030)" font-size="29.4" stroke-width="0.30" text-anchor="middle" fill="#008000" stroke="#008000" >∂log(δ<tspan font-style="italic">M</tspan><tspan font-size="17.4" dy="1.4">z</tspan><tspan dy="-1.4">)</tspan></text><text transform="translate(753.50,871.50) rotate(-61.40) scale(1,1.030)" font-size="29.4" stroke-width="0.30" fill="#1e3cd2" stroke="#1e3cd2" >DW motion</text><text transform="translate(873.00,731.00) rotate(61.40) scale(1,1.030)" font-size="29.4" stroke-width="0.30" fill="#ff2a00" stroke="#ff2a00" >Nucleation</text></svg>
</body></html>
